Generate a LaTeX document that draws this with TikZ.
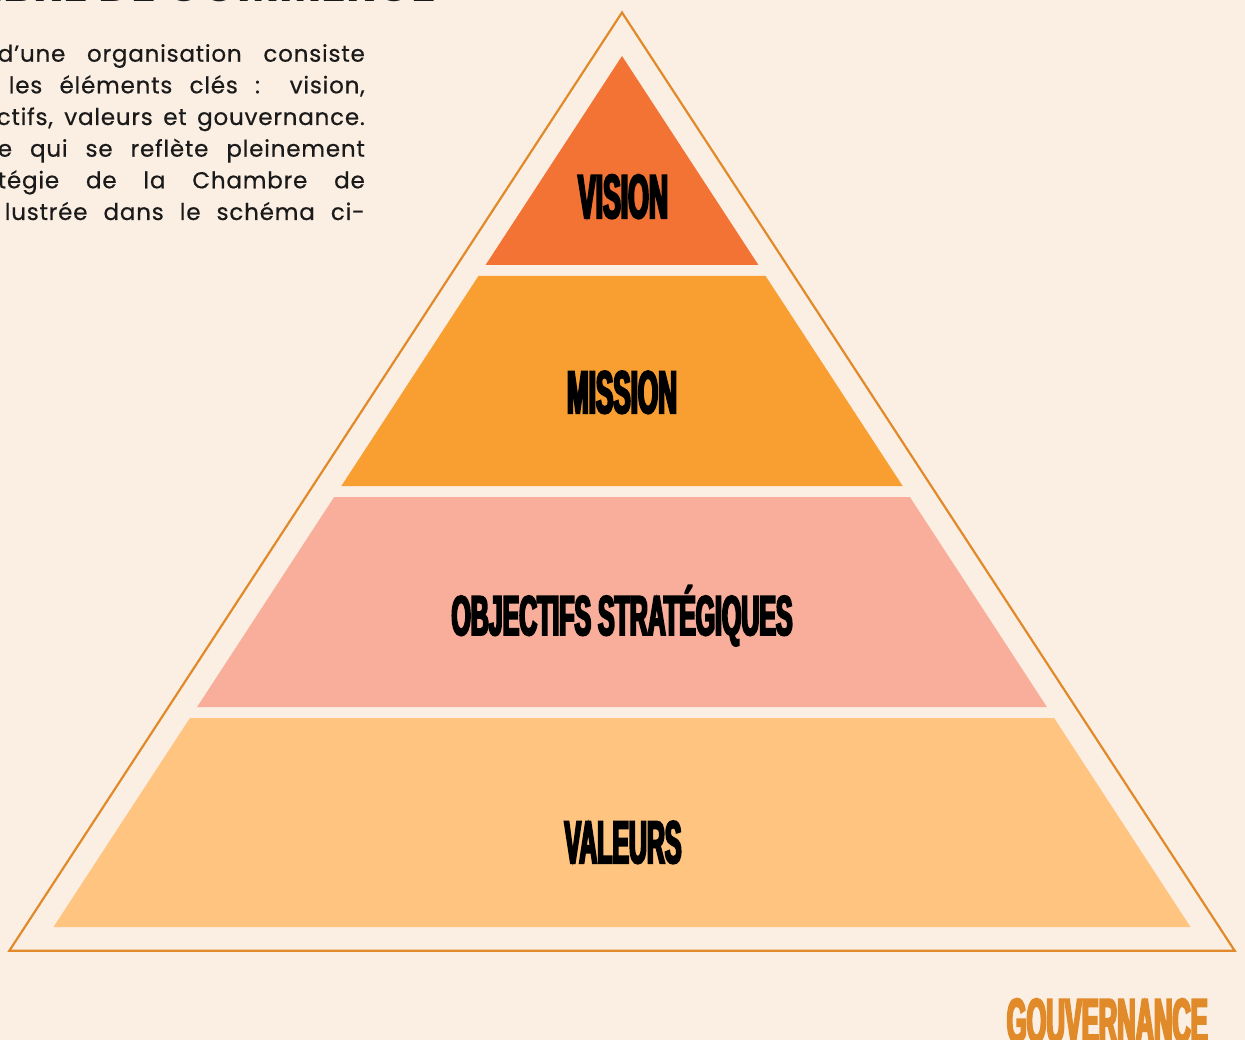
\documentclass[tikz,border=0pt]{standalone}
\usepackage{fontspec}
\setmainfont{Poppins}
\newfontfamily\parafont{Poppins}[LetterSpace=3.5,FakeBold=0.5]
\newfontfamily\labelfont{Liberation Sans Bold}[FakeStretch=0.42,FakeBold=3.5]
\definecolor{bg}{HTML}{FBEEE3}
\definecolor{outline}{HTML}{E08A2A}
\definecolor{cvision}{HTML}{F37335}
\definecolor{cmission}{HTML}{F99F31}
\definecolor{cobj}{HTML}{F8AE9A}
\definecolor{cval}{HTML}{FEC480}
\definecolor{ink}{HTML}{1A1A1A}
\newcommand\pyrband[3]{\fill[#3] ({622-0.6527*(#1-56)},#1) -- ({622+0.6527*(#1-56)},#1) -- ({622+0.6527*(#2-56)},#2) -- ({622-0.6527*(#2-56)},#2) -- cycle;}
\tikzset{
  lbl/.style={inner sep=0pt, anchor=base, text=black},
  para/.style={inner sep=0pt, anchor=base east, text=ink, font=\parafont\fontsize{23}{23}\selectfont},
}
\begin{document}
\begin{tikzpicture}[x=1pt,y=-1pt]
\fill[bg] (0,0) rectangle (1245,1040);
\useasboundingbox (0,0) rectangle (1245,1040);
\clip (0,0) rectangle (1245,1040);
% title (cut off at top)
\node[inner sep=0pt, anchor=base east, font=\bfseries\fontsize{46}{46}\selectfont, text=ink] (title) at (437,1.8) {CHAMBRE DE COMMERCE};
% paragraph (cut off at left)
\node[para] (p1) at (365,61.7) {\makebox[367pt][s]{d’une organisation consiste}};
\node[para] (p2) at (365,93.3) {\makebox[356pt][s]{les éléments clés : vision,}};
\node[para] (p3) at (365,125) {\makebox[368pt][s]{ctifs, valeurs et gouvernance.}};
\node[para] (p4) at (365,156.7) {\makebox[367pt][s]{e qui se reflète pleinement}};
\node[para] (p5) at (365,188.3) {\makebox[367pt][s]{tégie de la Chambre de}};
\node[para] (p6) at (365,220) {\makebox[360pt][s]{lustrée dans le schéma ci-}};
% outer triangle
\draw[outline, line width=2.2pt] (622,12.5) -- ({622-0.653*(950.7-12.5)},950.7) -- ({622+0.653*(950.7-12.5)},950.7) -- cycle;
% bands
\pyrband{56}{265}{cvision}
\pyrband{276}{486}{cmission}
\pyrband{497}{707}{cobj}
\pyrband{718}{927}{cval}
% labels
\node[lbl, font=\labelfont\fontsize{62}{62}\selectfont] (vision) at (623,218) {\resizebox{90pt}{\height}{VISION}};
\node[lbl, font=\labelfont\fontsize{60}{60}\selectfont] (mission) at (622,413) {\resizebox{110pt}{\height}{MISSION}};
\node[lbl, font=\labelfont\fontsize{56}{56}\selectfont] (obj) at (622,635) {\resizebox{341pt}{\height}{OBJECTIFS STRATÉGIQUES}};
\node[lbl, font=\labelfont\fontsize{60}{60}\selectfont] (val) at (623,863) {\resizebox{117pt}{\height}{VALEURS}};
\node[inner sep=0pt, anchor=base east, text=outline, font=\labelfont\fontsize{62}{62}\selectfont] (gouv) at (1208,1042) {\resizebox{201pt}{\height}{GOUVERNANCE}};
\end{tikzpicture}
\end{document}
